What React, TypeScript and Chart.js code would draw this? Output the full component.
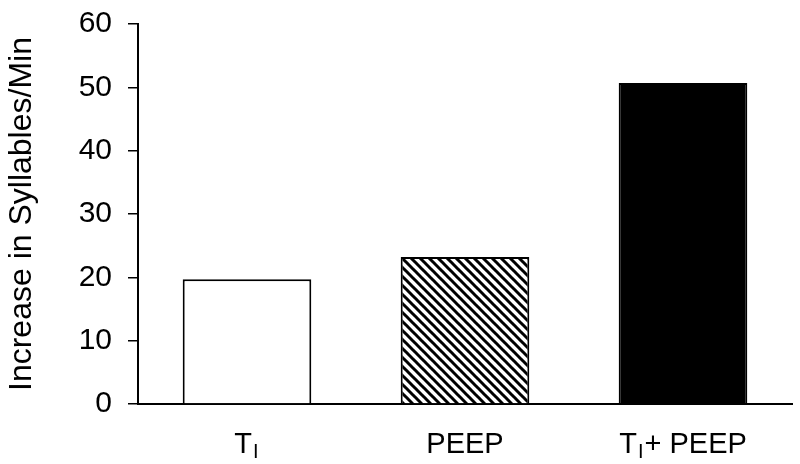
import React, { useEffect, useRef } from "react";
import { Chart, registerables } from "chart.js";

Chart.register(...registerables);

const categories = ["T_I", "PEEP", "T_I+ PEEP"];
const values = [19.7, 23.2, 50.7];
const yTicks = [0, 10, 20, 30, 40, 50, 60];
const yTitle = "Increase in Syllables/Min";

const FONT = "'Liberation Sans', Arial, sans-serif";

function makeHatch(): CanvasPattern | string {
  const n = 9;
  const c = document.createElement("canvas");
  c.width = n;
  c.height = n;
  const ctx = c.getContext("2d");
  if (!ctx) return "#888";
  ctx.fillStyle = "#fff";
  ctx.fillRect(0, 0, n, n);
  ctx.strokeStyle = "#000";
  ctx.lineWidth = 3;
  for (let k = -1; k <= 1; k++) {
    ctx.beginPath();
    ctx.moveTo(-1, k * n - 1);
    ctx.lineTo(n + 1, n + k * n + 1);
    ctx.stroke();
  }
  return ctx.createPattern(c, "repeat") || "#888";
}

function parseLabel(s: string): { text: string; sub: boolean }[] {
  const out: { text: string; sub: boolean }[] = [];
  let buf = "";
  for (let i = 0; i < s.length; i++) {
    if (s[i] === "_" && i + 1 < s.length) {
      if (buf) out.push({ text: buf, sub: false });
      buf = "";
      out.push({ text: s[i + 1], sub: true });
      i++;
    } else {
      buf += s[i];
    }
  }
  if (buf) out.push({ text: buf, sub: false });
  return out;
}

const subLabelPlugin = {
  id: "subLabels",
  afterDraw(chart: any) {
    const ctx = chart.ctx as CanvasRenderingContext2D;
    const xs = chart.scales.x;
    const mainFont = `29px ${FONT}`;
    const subFont = `20px ${FONT}`;
    const baseY = 453;
    ctx.save();
    ctx.fillStyle = "#000";
    ctx.textBaseline = "alphabetic";
    ctx.textAlign = "left";
    categories.forEach((lab, i) => {
      const segs = parseLabel(lab);
      let total = 0;
      const widths = segs.map((sg) => {
        ctx.font = sg.sub ? subFont : mainFont;
        const w = ctx.measureText(sg.text).width + (sg.sub ? 2 : 0);
        total += w;
        return w;
      });
      let x = xs.getPixelForValue(i) - total / 2;
      segs.forEach((sg, j) => {
        ctx.font = sg.sub ? subFont : mainFont;
        ctx.fillText(sg.text, x + (sg.sub ? 1 : 0), sg.sub ? baseY + 5 : baseY);
        x += widths[j];
      });
    });
    ctx.restore();
  },
};

export default function App() {
  const ref = useRef<HTMLCanvasElement | null>(null);

  useEffect(() => {
    if (!ref.current) return;
    const hatch = makeHatch();
    const chart = new Chart(ref.current, {
      type: "bar",
      data: {
        labels: categories,
        datasets: [
          {
            data: values,
            backgroundColor: ["#ffffff", hatch as any, "#000000"],
            borderColor: "#000",
            borderWidth: 2,
            categoryPercentage: 1,
            barPercentage: 0.59,
          },
        ],
      },
      options: {
        responsive: false,
        animation: false,
        layout: { padding: { top: 24, right: 8, left: 0, bottom: 0 } },
        plugins: {
          legend: { display: false },
          tooltip: { enabled: false },
        },
        scales: {
          x: {
            grid: { display: false },
            border: { display: true, color: "#000", width: 2 },
            ticks: { display: false },
            afterFit: (s: any) => {
              s.height = 60;
              s.paddingLeft = 0;
              s.paddingRight = 0;
            },
          },
          y: {
            min: 0,
            max: 60,
            afterBuildTicks: (s: any) => {
              s.ticks = yTicks.map((v) => ({ value: v }));
            },
            grid: {
              drawOnChartArea: false,
              drawTicks: true,
              tickLength: 10,
              color: "#000",
              lineWidth: 1.5,
            },
            border: { display: true, color: "#000", width: 2 },
            ticks: {
              color: "#000",
              padding: 16,
              font: { family: FONT, size: 30 },
            },
            title: {
              display: true,
              text: yTitle,
              color: "#000",
              font: { family: FONT, size: 32 },
              padding: { top: 3, bottom: 0 },
            },
            afterFit: (s: any) => {
              s.width = 138;
              s.paddingTop = 0;
              s.paddingBottom = 0;
            },
          },
        },
      },
      plugins: [subLabelPlugin],
    });
    return () => chart.destroy();
  }, []);

  return (
    <div style={{ position: "fixed", left: 0, top: 0, width: 800, height: 464, background: "#fff" }}>
      <canvas ref={ref} width={800} height={464} />
    </div>
  );
}
